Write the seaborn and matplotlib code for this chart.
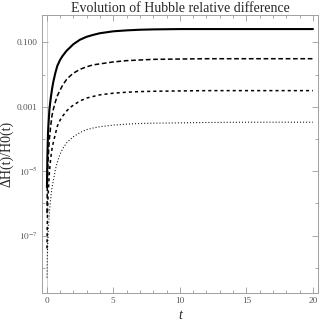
import numpy as np
import pandas as pd
import seaborn as sns
import matplotlib
import matplotlib.pyplot as plt
from matplotlib.ticker import FixedLocator, FixedFormatter, MultipleLocator

matplotlib.use('Agg')

# time samples
t_vals = [0.02, 0.05, 0.1, 0.2, 0.3, 0.4, 0.5, 0.65, 0.8, 1.0, 1.2, 1.5, 1.75,
          2.0, 2.5, 3.0, 3.5, 4.0, 5.0, 6.0, 7.0, 8.0, 10.0, 12.0, 15.0, 20.0]

# relative difference for the four cases
solid_vals = [3.2e-6, 2.5e-5, 1.6e-4, 7.9e-4, 1.8e-3, 3.5e-3, 6.0e-3, 0.0112, 0.0186,
              0.0282, 0.038, 0.055, 0.069, 0.087, 0.120, 0.148, 0.170, 0.191, 0.219,
              0.234, 0.245, 0.251, 0.257, 0.257, 0.257, 0.257]
dashed_vals = [5.0e-7, 4.0e-6, 2.0e-5, 1.0e-4, 2.5e-4, 5.4e-4, 8.3e-4, 1.41e-3, 2.19e-3,
               3.24e-3, 4.68e-3, 7.08e-3, 8.91e-3, 0.01096, 0.01445, 0.01738, 0.01995,
               0.02138, 0.02455, 0.02692, 0.02818, 0.02951, 0.0302, 0.0309, 0.0309, 0.0309]
dense_vals = [4.0e-8, 3.2e-7, 1.6e-6, 8.9e-6, 2.5e-5, 5.0e-5, 7.9e-5, 1.41e-4, 2.51e-4,
              3.80e-4, 5.13e-4, 7.41e-4, 9.33e-4, 1.12e-3, 1.51e-3, 1.86e-3, 2.09e-3,
              2.34e-3, 2.63e-3, 2.82e-3, 2.95e-3, 3.02e-3, 3.09e-3, 3.16e-3, 3.16e-3, 3.16e-3]
dotted_vals = [5.0e-9, 2.5e-8, 1.0e-7, 5.0e-7, 1.41e-6, 3.16e-6, 5.0e-6, 1.10e-5, 1.91e-5,
               3.31e-5, 5.0e-5, 7.59e-5, 9.55e-5, 1.17e-4, 1.58e-4, 1.95e-4, 2.19e-4,
               2.40e-4, 2.69e-4, 2.88e-4, 3.02e-4, 3.09e-4, 3.16e-4, 3.24e-4, 3.31e-4, 3.31e-4]

y_major = [1e-1, 1e-3, 1e-5, 1e-7]
y_major_labels = ['0.100', '0.001', r'$10^{-5}$', r'$10^{-7}$']
y_minor = [1e-2, 1e-4, 1e-6, 1e-8]

sns.set_style('ticks')
plt.rcParams['font.family'] = ['Liberation Serif', 'DejaVu Serif']
plt.rcParams['mathtext.fontset'] = 'stix'
plt.rcParams['lines.scale_dashes'] = False

fig = plt.figure(figsize=(3.22, 3.27), dpi=100)
ax = fig.add_axes([0.1295, 0.105, 0.859, 0.849])

ax.axvline(0, color='#c8c8c8', lw=0.6, zorder=0)

styles = [
    (solid_vals, dict(lw=1.5, linestyle='-')),
    (dashed_vals, dict(lw=1.1, linestyle=(0, (3.4, 1.9)))),
    (dense_vals, dict(lw=1.1, linestyle=(0, (2.2, 2.2)))),
    (dotted_vals, dict(lw=0.8, linestyle=(0, (0.7, 1.5)))),
]
for vals, kw in styles:
    df = pd.DataFrame({'t': t_vals, 'dH': vals})
    sns.lineplot(data=df, x='t', y='dH', ax=ax, color='black', estimator=None, **kw)

ax.set_yscale('log')
ax.set_xlim(-0.375, 20.4)
ax.set_ylim(1.7e-9, 0.70)

ax.xaxis.set_major_locator(FixedLocator([0, 5, 10, 15, 20]))
ax.xaxis.set_major_formatter(FixedFormatter(['0', '5', '10', '15', '20']))
ax.xaxis.set_minor_locator(MultipleLocator(1))
ax.yaxis.set_major_locator(FixedLocator(y_major))
ax.yaxis.set_major_formatter(FixedFormatter(y_major_labels))
ax.yaxis.set_minor_locator(FixedLocator(y_minor))
ax.yaxis.set_minor_formatter(FixedFormatter([''] * len(y_minor)))

ax.tick_params(which='both', direction='in', top=True, right=True, color='#999999',
               labelcolor='#555555', labelsize=6.7, width=0.6)
ax.tick_params(which='major', length=4, pad=3)
ax.tick_params(which='minor', length=2.3)
for s in ax.spines.values():
    s.set_color('#a0a0a0')
    s.set_linewidth(0.7)

ax.set_title('Evolution of Hubble relative difference', fontsize=10, pad=2.5)
ax.set_ylabel('ΔH(t)/H0(t)', fontsize=10, labelpad=2)
ax.set_xlabel('t', fontsize=10, style='italic', labelpad=3)

fig.savefig('out.png', dpi=100)
